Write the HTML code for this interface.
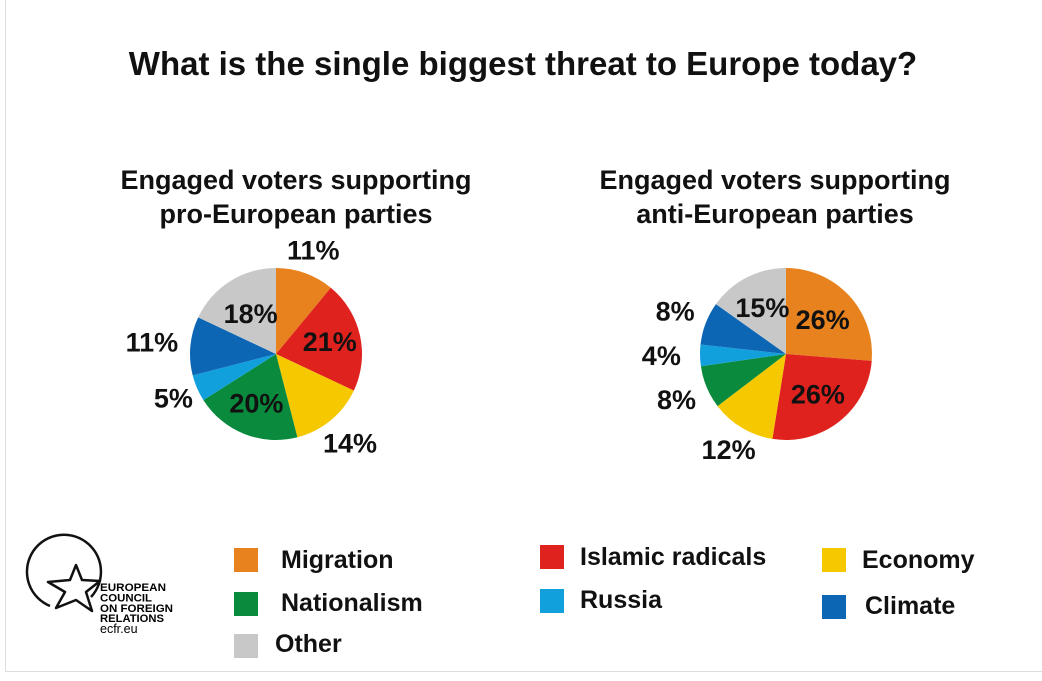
<!DOCTYPE html>
<html><head><meta charset="utf-8"><style>
body{margin:0;background:#fff;width:1042px;height:681px;overflow:hidden;position:relative;font-family:"Liberation Sans",sans-serif;font-weight:bold;color:#111}
.t{position:absolute;white-space:nowrap}
.sw{position:absolute;width:24px;height:24px}
.lg{position:absolute;font-size:25px;white-space:nowrap}
</style></head><body>
<div style="position:absolute;left:5px;top:-2px;width:1040px;height:674px;border:1px solid #ddd;box-sizing:border-box"></div>
<div class="t" style="left:0;width:1046px;text-align:center;top:45px;font-size:33px">What is the single biggest threat to Europe today?</div>
<div class="t" style="left:96px;width:400px;text-align:center;top:163px;font-size:27px;line-height:34px">Engaged voters supporting<br>pro-European parties</div>
<div class="t" style="left:575px;width:400px;text-align:center;top:163px;font-size:27px;line-height:34px">Engaged voters supporting<br>anti-European parties</div>
<svg id="pies" width="1042" height="681" style="position:absolute;left:0;top:0"></svg>

<div class="sw" style="left:234px;top:548px;background:#e8821e"></div>
<div class="lg" style="left:281px;top:546px">Migration</div>
<div class="sw" style="left:234px;top:592px;background:#0a8a3c"></div>
<div class="lg" style="left:281px;top:589px">Nationalism</div>
<div class="sw" style="left:234px;top:634px;background:#c8c8c8"></div>
<div class="lg" style="left:275px;top:630px">Other</div>
<div class="sw" style="left:540px;top:545px;background:#e0221e"></div>
<div class="lg" style="left:580px;top:543px">Islamic radicals</div>
<div class="sw" style="left:540px;top:589px;background:#12a0dc"></div>
<div class="lg" style="left:580px;top:586px">Russia</div>
<div class="sw" style="left:822px;top:548px;background:#f5c800"></div>
<div class="lg" style="left:862px;top:546px">Economy</div>
<div class="sw" style="left:822px;top:595px;background:#0c66b4"></div>
<div class="lg" style="left:865px;top:592px">Climate</div>

<svg width="200" height="681" style="position:absolute;left:0;top:0">
<path d="M91 597 A37 37 0 1 0 50 606" fill="none" stroke="#111" stroke-width="2.5"/>
<polygon points="76,565 82,580 100,581 86,592 92,611 76,600 56,608 65,592 48,582 70,580" fill="#fff" stroke="#111" stroke-width="2.5" stroke-linejoin="round"/>
<text x="100" y="591" font-size="11" font-weight="bold" font-family="Liberation Sans" textLength="66" lengthAdjust="spacingAndGlyphs">EUROPEAN</text>
<text x="100" y="601.5" font-size="11" font-weight="bold" font-family="Liberation Sans" textLength="52" lengthAdjust="spacingAndGlyphs">COUNCIL</text>
<text x="100" y="612" font-size="11" font-weight="bold" font-family="Liberation Sans" textLength="73" lengthAdjust="spacingAndGlyphs">ON FOREIGN</text>
<text x="100" y="622" font-size="11" font-weight="bold" font-family="Liberation Sans" textLength="64" lengthAdjust="spacingAndGlyphs">RELATIONS</text>
<text x="100" y="633" font-size="12.5" font-weight="normal" font-family="Liberation Sans">ecfr.eu</text>
</svg>

<script>
const categories=["Migration","Islamic radicals","Economy","Nationalism","Russia","Climate","Other"];
const colors=["#e8821e","#e0221e","#f5c800","#0a8a3c","#12a0dc","#0c66b4","#c8c8c8"];
const proValues=[11,21,14,20,5,11,18];
const antiValues=[26,26,12,8,4,8,15];
const proLabels=["11%","21%","14%","20%","5%","11%","18%"];
const antiLabels=["26%","26%","12%","8%","4%","8%","15%"];
const svg=document.getElementById('pies');
const NS='http://www.w3.org/2000/svg';
function drawPie(vals,labels,cx,cy,r,labelPos,name){
  const tot=vals.reduce((a,b)=>a+b,0);let a0=0;
  vals.forEach((v,i)=>{
    const a1=a0+v/tot*2*Math.PI;
    const x0=cx+r*Math.sin(a0),y0=cy-r*Math.cos(a0),x1=cx+r*Math.sin(a1),y1=cy-r*Math.cos(a1);
    const p=document.createElementNS(NS,'path');
    p.setAttribute('d',`M${cx},${cy}L${x0},${y0}A${r},${r} 0 ${a1-a0>Math.PI?1:0} 1 ${x1},${y1}Z`);
    p.setAttribute('fill',colors[i]);
    
    
    svg.appendChild(p);
    const mid=(a0+a1)/2, lr=r*labelPos[i];
    const t=document.createElementNS(NS,'text');
    t.setAttribute('x',cx+lr*Math.sin(mid));t.setAttribute('y',cy-lr*Math.cos(mid)+9);
    t.setAttribute('text-anchor','middle');t.setAttribute('font-size','27');t.setAttribute('font-weight','bold');
    t.setAttribute('font-family','Liberation Sans, sans-serif');t.setAttribute('fill','#111');
    t.textContent=labels[i];
    
    
    svg.appendChild(t);
    a0=a1;
  });
}
drawPie(proValues,proLabels,276,354,86,[1.28,0.64,1.35,0.62,1.3,1.45,0.55],'pro-pie');
drawPie(antiValues,antiLabels,786,354,86,[0.58,0.6,1.3,1.38,1.45,1.38,0.6],'anti-pie');
</script>
</body></html>
